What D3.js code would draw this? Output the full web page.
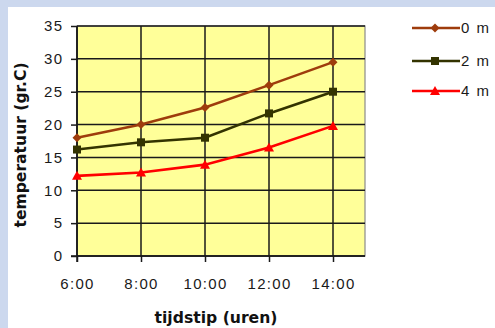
<!DOCTYPE html>
<html>
<head>
<meta charset="utf-8">
<script src="https://cdn.jsdelivr.net/npm/d3@7"></script>
<style>
  html, body { margin: 0; padding: 0; background: #ccd8ee; }
  svg { display: block; }
  text { font-family: "Liberation Sans", Arial, sans-serif; fill: #1a1a1a; }
  .axis-title { font-family: "DejaVu Sans", sans-serif; font-weight: bold; font-size: 15px; fill: #111; }
</style>
</head>
<body>
<svg id="chart" width="495" height="328"></svg>
<script>
// Water temperature at three depths, measured over the day
const hours = [6, 8, 10, 12, 14];
const hourLabels = ["6:00", "8:00", "10:00", "12:00", "14:00"];
const depth0m = [18, 20, 22.6, 26, 29.5];
const depth2m = [16.2, 17.3, 18, 21.7, 25];
const depth4m = [12.2, 12.7, 13.9, 16.5, 19.8];
const yTicks = [0, 5, 10, 15, 20, 25, 30, 35];
const seriesNames = ["0 m", "2 m", "4 m"];

const series = [
  { name: seriesNames[0], values: depth0m, color: "#9e3c0c", marker: "diamond" },
  { name: seriesNames[1], values: depth2m, color: "#333300", marker: "square" },
  { name: seriesNames[2], values: depth4m, color: "#ff0000", marker: "triangle" }
];

const svg = d3.select("#chart");

// white chart panel inside the light blue frame
svg.append("rect").attr("x", 8).attr("y", 7).attr("width", 487).attr("height", 321).attr("fill", "#ffffff");

const plot = { left: 77, right: 365, top: 26, bottom: 256 };
const x = d3.scaleLinear().domain([6, 15]).range([plot.left, plot.right]);
const y = d3.scaleLinear().domain([0, 35]).range([plot.bottom, plot.top]);

svg.append("rect")
  .attr("x", plot.left).attr("y", plot.top)
  .attr("width", plot.right - plot.left).attr("height", plot.bottom - plot.top)
  .attr("fill", "#ffff99").attr("stroke", "#8a8a8a").attr("stroke-width", 1.2);

// horizontal gridlines
svg.append("g").selectAll("line").data(yTicks).join("line")
  .attr("x1", plot.left).attr("x2", plot.right)
  .attr("y1", d => y(d)).attr("y2", d => y(d))
  .attr("stroke", "#1a1a1a").attr("stroke-width", 1.5);

// vertical gridlines
svg.append("g").selectAll("line").data(hours).join("line")
  .attr("x1", d => x(d)).attr("x2", d => x(d))
  .attr("y1", plot.top).attr("y2", plot.bottom)
  .attr("stroke", "#1a1a1a").attr("stroke-width", 1.5);

// axes
const yAxis = d3.axisLeft(y).tickValues(yTicks).tickSize(6).tickPadding(9);
const gy = svg.append("g").attr("transform", `translate(${plot.left},0)`).call(yAxis);
const xAxis = d3.axisBottom(x).tickValues(hours).tickFormat((d, i) => hourLabels[i]).tickSize(6).tickPadding(16);
const gx = svg.append("g").attr("transform", `translate(0,${plot.bottom})`).call(xAxis);

[gx, gy].forEach(g => {
  g.select(".domain").remove();
  g.selectAll(".tick line").attr("stroke", "#1a1a1a").attr("stroke-width", 1.5);
  g.selectAll(".tick text")
    .style("font-family", "'Liberation Sans', Arial, sans-serif")
    .style("font-size", "15px").style("letter-spacing", "1.3px").attr("fill", "#1a1a1a");
});
gy.selectAll(".tick text").attr("dx", "1.3px");

// axis lines
svg.append("line").attr("x1", plot.left).attr("x2", plot.left)
  .attr("y1", plot.top).attr("y2", plot.bottom + 6).attr("stroke", "#1a1a1a").attr("stroke-width", 1.5);
svg.append("line").attr("x1", plot.left - 6).attr("x2", plot.right)
  .attr("y1", plot.bottom).attr("y2", plot.bottom).attr("stroke", "#1a1a1a").attr("stroke-width", 1.5);

// axis titles
svg.append("text")
  .attr("class", "axis-title")
  .attr("transform", "translate(26,145) rotate(-90)")
  .attr("text-anchor", "middle")
  .attr("textLength", 165).attr("lengthAdjust", "spacingAndGlyphs")
  .text("temperatuur (gr.C)");

svg.append("text")
  .attr("class", "axis-title")
  .attr("x", 216).attr("y", 323)
  .attr("text-anchor", "middle")
  .attr("textLength", 123).attr("lengthAdjust", "spacingAndGlyphs")
  .text("tijdstip (uren)");

// marker shapes
function markerPath(type) {
  if (type === "diamond") return "M0,-4.5L4.5,0L0,4.5L-4.5,0Z";
  if (type === "square") return "M-4,-4H4V4H-4Z";
  return "M0,-5L5,4H-5Z";
}

const line = d3.line().x((d, i) => x(hours[i])).y(d => y(d));

series.forEach(s => {
  svg.append("path").datum(s.values)
    .attr("d", line).attr("fill", "none")
    .attr("stroke", s.color).attr("stroke-width", 2.6);
  svg.append("g").selectAll("path").data(s.values).join("path")
    .attr("transform", (d, i) => `translate(${x(hours[i])},${y(d)})`)
    .attr("d", markerPath(s.marker))
    .attr("fill", s.color);
});

// legend
const legend = svg.append("g");
const legendY = [28, 61, 91];
series.forEach((s, i) => {
  const g = legend.append("g").attr("transform", `translate(0,${legendY[i]})`);
  g.append("line").attr("x1", 412).attr("x2", 460).attr("y1", 0).attr("y2", 0)
    .attr("stroke", s.color).attr("stroke-width", 2.6);
  g.append("path").attr("transform", "translate(435,0)").attr("d", markerPath(s.marker)).attr("fill", s.color);
  g.append("text").attr("x", 461).attr("y", 0).attr("dy", "0.36em")
    .style("font-size", "15px").style("letter-spacing", "1.5px")
    .text(s.name);
});
</script>
</body>
</html>
